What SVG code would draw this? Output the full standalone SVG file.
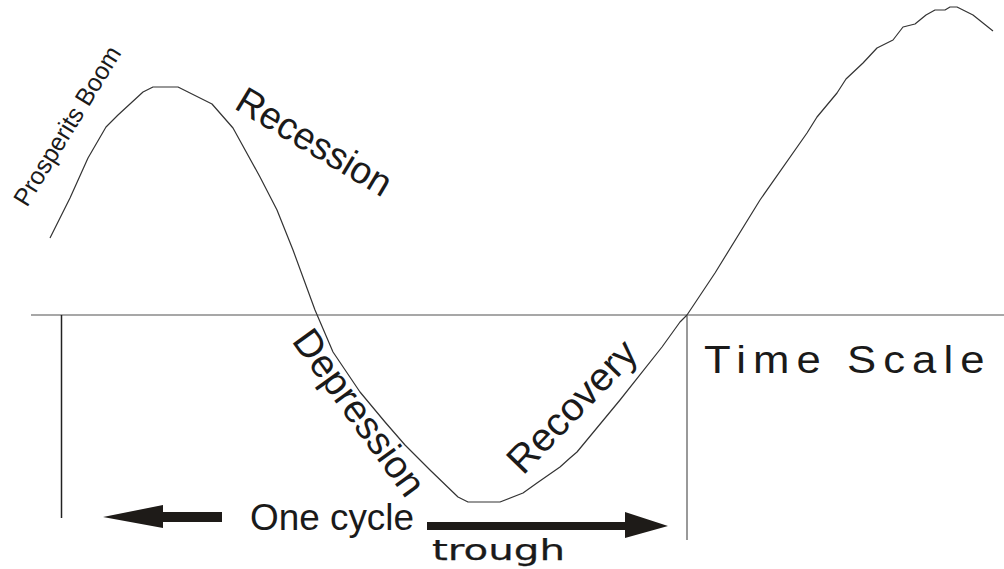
<svg xmlns="http://www.w3.org/2000/svg" width="1004" height="569" viewBox="0 0 1004 569">
<style>
.lbl{font-family:"Liberation Sans",Arial,sans-serif;fill:#1a1a1a}
.curve{fill:none;stroke:#333;stroke-width:1.2;stroke-linejoin:round}
.arrow{fill:#1e1b18}
</style>
<rect width="1004" height="569" fill="#fff"/>
<g id="axes">
<line x1="31" y1="315" x2="1004" y2="315" stroke="#8a8a8a" stroke-width="1.6"/>
<line x1="61.5" y1="315" x2="61.5" y2="518" stroke="#222" stroke-width="1.5"/>
<line x1="687" y1="315" x2="687" y2="540" stroke="#999" stroke-width="2"/>
</g>
<g id="curve">
<polyline class="curve" points="50,238 70,198 88,158 106,127 118,115 143,92 153,87 178,87 212,104 233,128 260,177 277,210 293,250 315,310 333,352 360,392 385,422 405,445 430,470 458,497 468,502 500,502 523,493 537,483 560,467 570,458 577,452 620,400 662,347 680,322 687,315 715,273 760,200 807,133 817,117 837,93 846,79 863,63 877,48 893,40 903,27 915,24 926,15 935,10 945,10 950,7 957,7 973,15 993,31"/>
</g>
<g id="labels">
<text class="lbl" font-size="25" transform="translate(27,208) rotate(-58.5)" textLength="182" lengthAdjust="spacingAndGlyphs">Prosperits Boom</text>
<text class="lbl" font-size="38" transform="translate(233,108) rotate(31)" textLength="174" lengthAdjust="spacingAndGlyphs">Recession</text>
<text class="lbl" font-size="39" transform="translate(291,341) rotate(54)" textLength="196" lengthAdjust="spacingAndGlyphs">Depression</text>
<text class="lbl" font-size="39" transform="translate(523,476) rotate(-46)" textLength="168" lengthAdjust="spacingAndGlyphs">Recovery</text>
<text class="lbl" font-size="38" transform="translate(704,373) scale(1.15,1)" textLength="244" lengthAdjust="spacing">Time Scale</text>
<text class="lbl" font-size="37" x="250" y="530" textLength="164" lengthAdjust="spacingAndGlyphs">One cycle</text>
<text class="lbl" font-size="29" style="font-family:'DejaVu Sans',sans-serif" stroke="#1a1a1a" stroke-width="0.25" x="432" y="560" textLength="133" lengthAdjust="spacingAndGlyphs">trough</text>
</g>
<g id="arrows">
<polygon class="arrow" points="103,517 163,505 163,512 222,512 222,522 163,522 163,528"/>
<polygon class="arrow" points="427,522 625,522 625,512 668,526 625,538 625,530 427,530"/>
</g>
</svg>
